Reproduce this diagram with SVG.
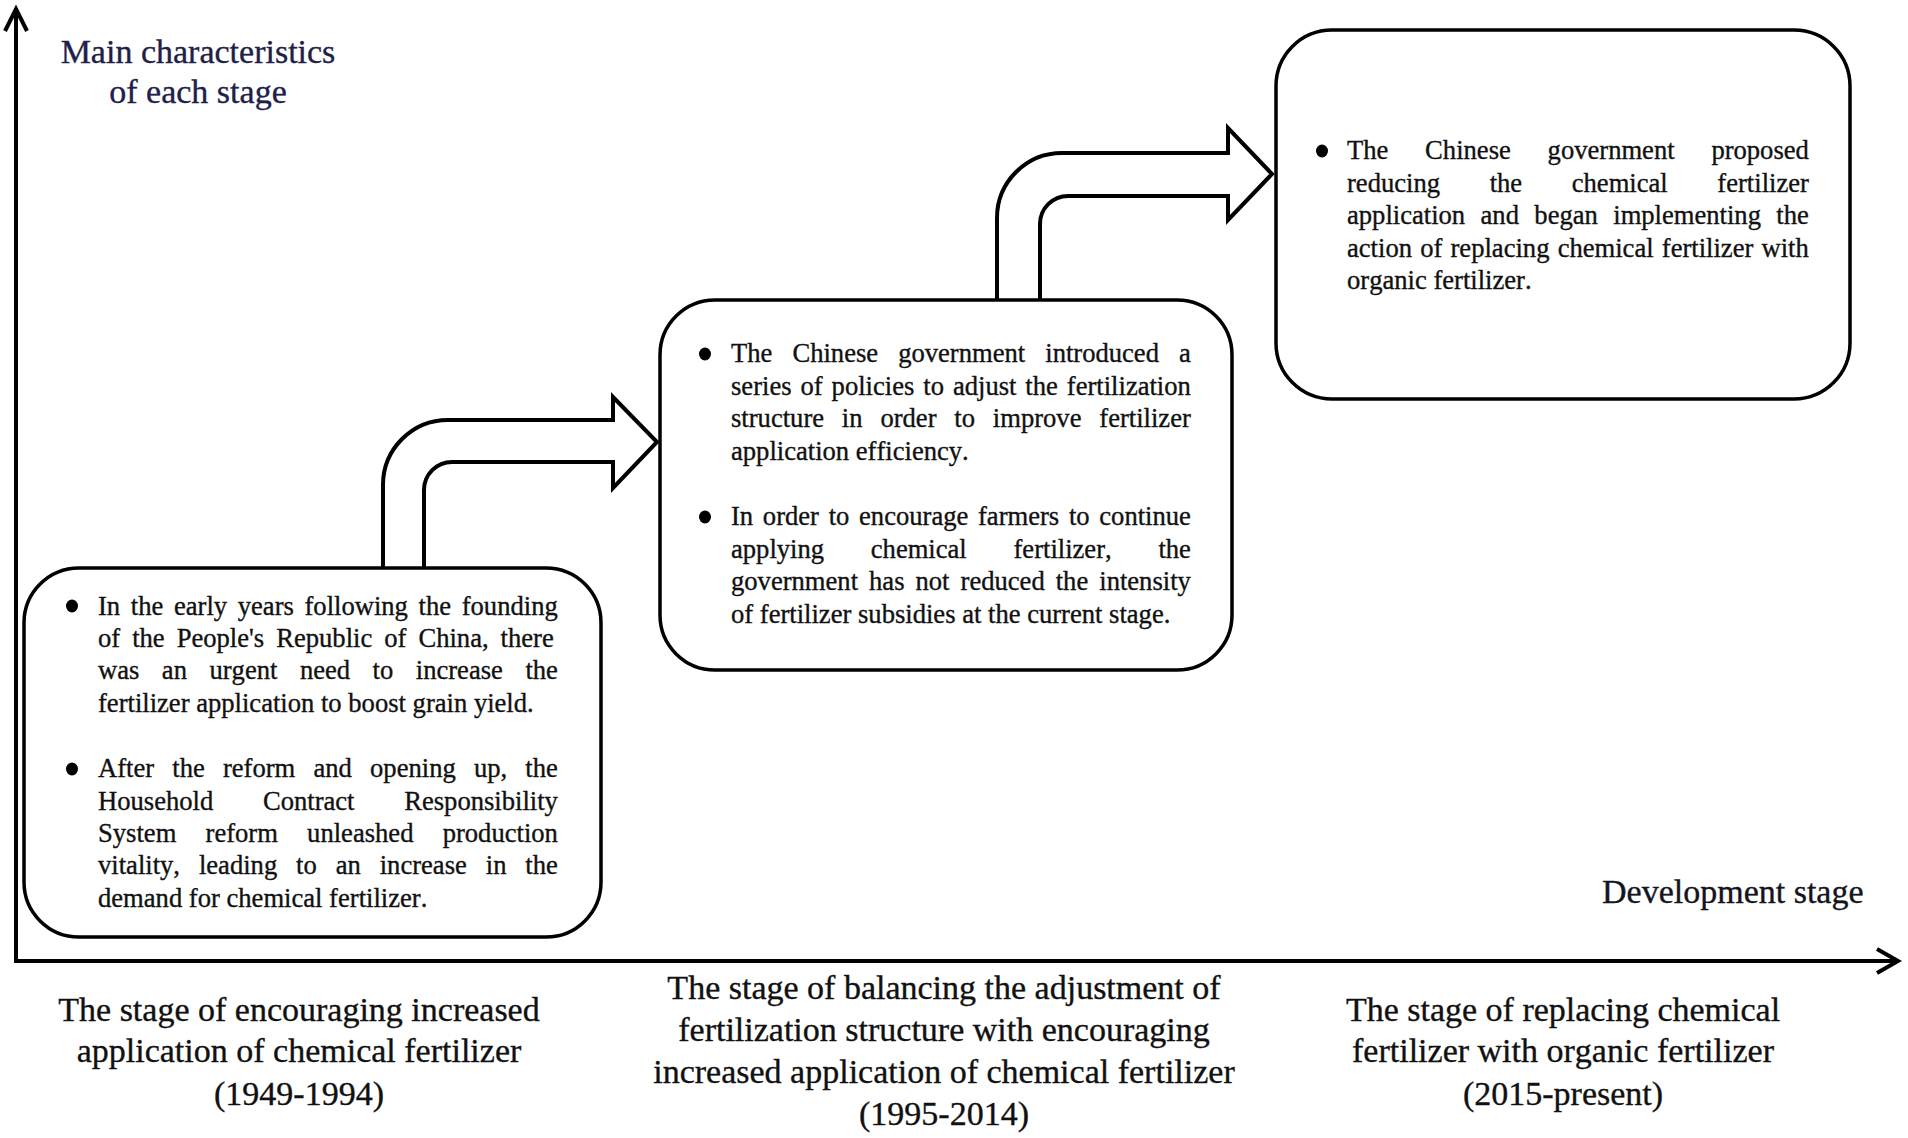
<svg xmlns="http://www.w3.org/2000/svg" width="1908" height="1138" viewBox="0 0 1908 1138">
<style>
.t{font-family:"Liberation Serif","Times New Roman",serif;font-kerning:none;font-variant-ligatures:none;fill:#111;stroke:#111;stroke-width:0.35}
.bx{font-size:26.6px}
.lb{font-size:34px;text-anchor:middle}
.ax{fill:none;stroke:#000;stroke-width:4;stroke-linejoin:miter}
.arr{fill:none;stroke:#000;stroke-width:4;stroke-linejoin:miter}
.box{fill:#fff;stroke:#000;stroke-width:3.5}
.dot{fill:#000}
</style>
<rect width="1908" height="1138" fill="#fff"/>
<g id="axes">
<polyline class="ax" points="16,963 16,9"/>
<polyline class="ax" points="5,31 16,9 27,31"/>
<polyline class="ax" points="14,961 1897,961"/>
<polyline class="ax" points="1877,949 1898,961 1877,973"/>
<text class="t" x="198" y="63" font-size="34" text-anchor="middle" style="fill:#1e2147;stroke:#1e2147">Main characteristics</text>
<text class="t" x="198" y="103" font-size="34" text-anchor="middle" style="fill:#1e2147;stroke:#1e2147">of each stage</text>
<text class="t" x="1602" y="903" font-size="34" style="fill:#141420;stroke:#141420">Development stage</text>
</g>
<g id="connectors">
<path class="arr" d="M383,568 V485 A65,65 0 0 1 448,420 H613 V397 L657,442 L613,488 V462 H452 A28,28 0 0 0 424,490 V568"/>
<path class="arr" d="M997,300 V218 A65,65 0 0 1 1062,153 H1228 V128 L1272,174 L1228,220 V196 H1068 A28,28 0 0 0 1040,224 V300"/>
</g>
<g id="stage1">
<rect class="box" x="24" y="568" width="577" height="369" rx="55"/>
<ellipse class="dot" cx="72" cy="606" rx="6" ry="6.5"/>
<ellipse class="dot" cx="72" cy="769" rx="6" ry="6.5"/>
<text class="t bx" x="98" y="615" word-spacing="4">In the early years following the founding</text>
<text class="t bx" x="98" y="647" word-spacing="5.37">of the People's Republic of China, there</text>
<text class="t bx" x="98" y="679" word-spacing="15.85">was an urgent need to increase the</text>
<text class="t bx" x="98" y="712">fertilizer application to boost grain yield.</text>
<text class="t bx" x="98" y="777" word-spacing="11.53">After the reform and opening up, the</text>
<text class="t bx" x="98" y="810" word-spacing="43.05">Household Contract Responsibility</text>
<text class="t bx" x="98" y="842" word-spacing="22.57">System reform unleashed production</text>
<text class="t bx" x="98" y="874" word-spacing="12.27">vitality, leading to an increase in the</text>
<text class="t bx" x="98" y="907">demand for chemical fertilizer.</text>
<text class="t lb" x="299" y="1021">The stage of encouraging increased</text>
<text class="t lb" x="299" y="1062">application of chemical fertilizer</text>
<text class="t lb" x="299" y="1105">(1949-1994)</text>
</g>
<g id="stage2">
<rect class="box" x="660" y="300" width="572" height="370" rx="55"/>
<ellipse class="dot" cx="705" cy="354" rx="6" ry="6.5"/>
<ellipse class="dot" cx="705" cy="517" rx="6" ry="6.5"/>
<text class="t bx" x="731" y="362" word-spacing="13.42">The Chinese government introduced a</text>
<text class="t bx" x="731" y="395" word-spacing="2.3">series of policies to adjust the fertilization</text>
<text class="t bx" x="731" y="427" word-spacing="11.18">structure in order to improve fertilizer</text>
<text class="t bx" x="731" y="460">application efficiency.</text>
<text class="t bx" x="731" y="525" word-spacing="3.05">In order to encourage farmers to continue</text>
<text class="t bx" x="731" y="558" word-spacing="40.07">applying chemical fertilizer, the</text>
<text class="t bx" x="731" y="590" word-spacing="4.38">government has not reduced the intensity</text>
<text class="t bx" x="731" y="623">of fertilizer subsidies at the current stage.</text>
<text class="t lb" x="944" y="999">The stage of balancing the adjustment of</text>
<text class="t lb" x="944" y="1041">fertilization structure with encouraging</text>
<text class="t lb" x="944" y="1083">increased application of chemical fertilizer</text>
<text class="t lb" x="944" y="1125">(1995-2014)</text>
</g>
<g id="stage3">
<rect class="box" x="1276" y="30" width="574" height="369" rx="56"/>
<ellipse class="dot" cx="1322" cy="151" rx="6" ry="6.5"/>
<text class="t bx" x="1347" y="159" word-spacing="30.13">The Chinese government proposed</text>
<text class="t bx" x="1347" y="191.5" word-spacing="42.97">reducing the chemical fertilizer</text>
<text class="t bx" x="1347" y="224" word-spacing="8.75">application and began implementing the</text>
<text class="t bx" x="1347" y="256.5" word-spacing="1.54">action of replacing chemical fertilizer with</text>
<text class="t bx" x="1347" y="289">organic fertilizer.</text>
<text class="t lb" x="1563" y="1021">The stage of replacing chemical</text>
<text class="t lb" x="1563" y="1062">fertilizer with organic fertilizer</text>
<text class="t lb" x="1563" y="1105">(2015-present)</text>
</g>
</svg>
